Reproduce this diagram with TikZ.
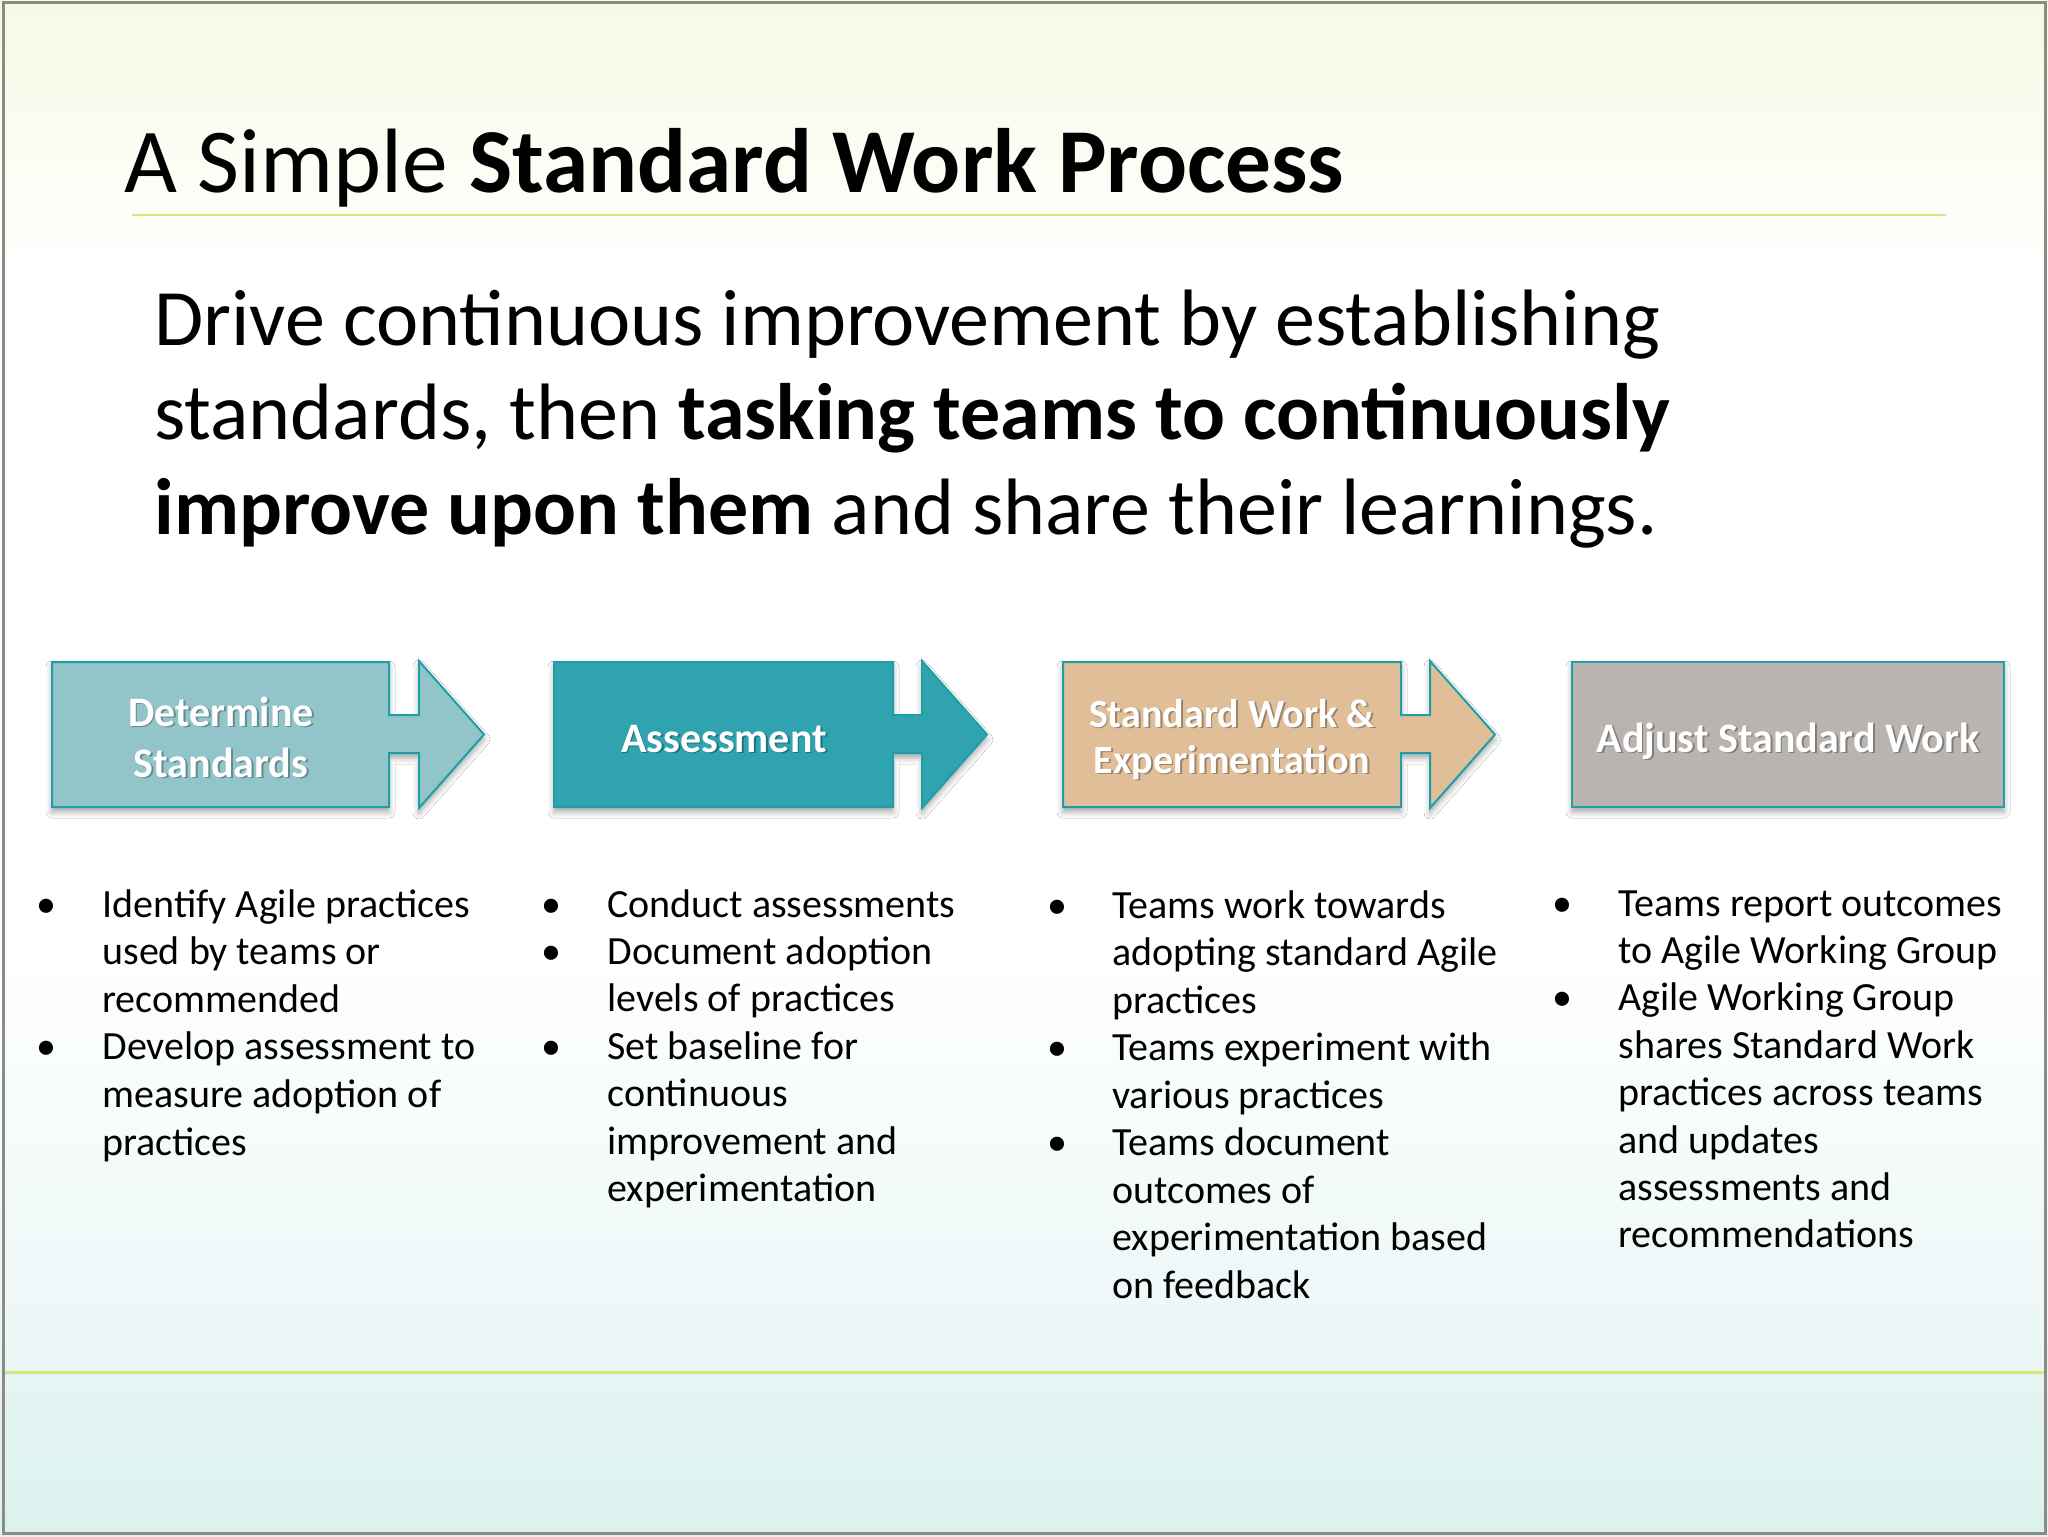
\documentclass[tikz,border=0pt]{standalone}
\usepackage{fontspec}
\setmainfont{Carlito}
\usetikzlibrary{shadows.blur}
\definecolor{boxA}{HTML}{92C5C9}
\definecolor{boxB}{HTML}{2FA4B0}
\definecolor{boxC}{HTML}{DFBE98}
\definecolor{boxD}{HTML}{BAB4B0}
\definecolor{tealline}{HTML}{1E9FA8}
\definecolor{rulecol}{HTML}{D9E67C}
\definecolor{topyel}{HTML}{F7F9E4}
\definecolor{botcyanA}{HTML}{EAF6F6}
\definecolor{botcyanB}{HTML}{DBF2EE}
\definecolor{framecol}{HTML}{8C8C84}
\tikzset{
  procbox/.style={draw=tealline, line width=1pt,
    blur shadow={shadow xshift=0pt, shadow yshift=-2.5pt, shadow blur radius=3pt, shadow opacity=35}},
  lbl/.style={text=white, inner sep=0, anchor=base},
  lblsh/.style={text=black, opacity=0.3, inner sep=0, anchor=base},
  bigA/.style={font=\bfseries\fontsize{21}{26}\selectfont},
  bigC/.style={font=\bfseries\fontsize{20}{24}\selectfont},
  itm/.style={font=\fontsize{20}{24}\selectfont, anchor=base west, inner sep=0},
  bul/.style={font=\fontsize{20}{24}\selectfont, anchor=base, inner sep=0},
  bodytxt/.style={font=\fontsize{40}{48}\selectfont, anchor=base west, inner sep=0},
}
\newcommand\boxlabel[5]{%
  \node[lblsh,#5] (#1s) at ({#2+1.8},{#3+1.8}) {#4};
  \node[lbl,#5] (#1) at (#2,#3) {#4};}
\newcommand\procarrow[4]{% fill L R S
  \path[procbox,fill=#1] (#2,662) -- (#3,662) -- (#3,715) -- (#4,715) -- (#4,661)
    -- ({#4+65},734.5) -- (#4,808) -- (#4,753) -- (#3,753) -- (#3,807) -- (#2,807) -- cycle;}
\begin{document}
\begin{tikzpicture}[x=0.5pt,y=-0.5pt]
\useasboundingbox (0,0) rectangle (2048,1536);
% background
\fill[white] (0,0) rectangle (2048,1536);
\shade[top color=topyel, bottom color=white] (0,0) rectangle (2048,270);
\shade[top color=white, bottom color=botcyanA] (0,950) rectangle (2048,1372);
\shade[top color=botcyanA!70!botcyanB, bottom color=botcyanB] (0,1372) rectangle (2048,1536);
\draw[rulecol, line width=1.5pt] (3,1372) -- (2045,1372);
\draw[framecol, line width=1.5pt] (3,3) rectangle (2045,1533);
% title
\node[anchor=base west, inner sep=0, font=\fontsize{45.7}{55}\selectfont] (title) at (124,192)
  {A Simple \textbf{Standard Work Process}};
\draw[rulecol, line width=1pt] (132,215) -- (1946,215);
% body
\node[bodytxt] (b1) at (154,345) {Drive continuous improvement by establishing};
\node[bodytxt] (b2) at (154,439) {standards, then \textbf{tasking teams to continuously}};
\node[bodytxt] (b3) at (154,534) {\textbf{improve upon them} and share their learnings.};
% arrows
\procarrow{boxA}{52}{389}{419}
\procarrow{boxB}{554}{893}{922}
\procarrow{boxC}{1063}{1401}{1430}
\path[procbox,fill=boxD] (1572,662) rectangle (2004,807);
\boxlabel{l1a}{221}{726}{Determine}{bigA}
\boxlabel{l1b}{221}{777}{Standards}{bigA}
\boxlabel{l2}{724}{752}{Assessment}{bigA}
\boxlabel{l3a}{1232}{727}{Standard Work \&}{bigC}
\boxlabel{l3b}{1232}{773}{Experimentation}{bigC}
\boxlabel{l4}{1788}{752}{Adjust Standard Work}{bigA}
% column 1
\foreach \b/\t [count=\k] in {1/Identify Agile practices, 0/used by teams or, 0/recommended,
  1/Develop assessment to, 0/measure adoption of, 0/practices}{
  \node[itm] (c1t\k) at (102,{917+47.6*(\k-1)}) {\t};
  \ifnum\b=1 \node[bul] (c1b\k) at (46,{917+47.6*(\k-1)}) {•};\fi}
% column 2
\foreach \b/\t [count=\k] in {1/Conduct assessments, 1/Document adoption, 0/levels of practices,
  1/Set baseline for, 0/continuous, 0/improvement and, 0/experimentation}{
  \node[itm] (c2t\k) at (607,{917+47.4*(\k-1)}) {\t};
  \ifnum\b=1 \node[bul] (c2b\k) at (551,{917+47.4*(\k-1)}) {•};\fi}
% column 3
\foreach \b/\t [count=\k] in {1/Teams work towards, 0/adopting standard Agile, 0/practices,
  1/Teams experiment with, 0/various practices, 1/Teams document, 0/outcomes of,
  0/experimentation based, 0/on feedback}{
  \node[itm] (c3t\k) at (1112,{918+47.5*(\k-1)}) {\t};
  \ifnum\b=1 \node[bul] (c3b\k) at (1057,{918+47.5*(\k-1)}) {•};\fi}
% column 4
\foreach \b/\t [count=\k] in {1/Teams report outcomes, 0/to Agile Working Group, 1/Agile Working Group,
  0/shares Standard Work, 0/practices across teams, 0/and updates, 0/assessments and,
  0/recommendations}{
  \node[itm] (c4t\k) at (1618,{916+47.4*(\k-1)}) {\t};
  \ifnum\b=1 \node[bul] (c4b\k) at (1562,{916+47.4*(\k-1)}) {•};\fi}
\end{tikzpicture}
\end{document}
